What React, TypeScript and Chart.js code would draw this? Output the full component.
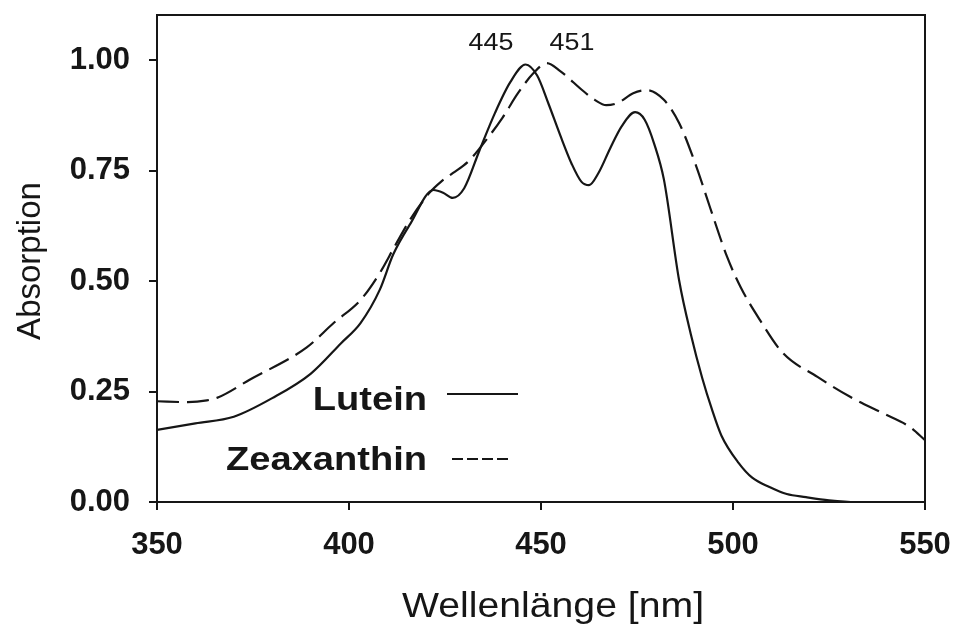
import { useEffect, useRef } from 'react';
import { Chart, registerables } from 'chart.js';

Chart.register(...registerables);

// ---- data ----
const luteinWavelengths = [350, 360, 370, 380, 390, 398, 403, 408, 411.5, 416, 422, 424.5, 427, 430, 434, 438, 442, 446, 449, 452, 455, 458, 460.5, 462.5, 465, 468, 471, 474.5, 477, 479.5, 482, 486, 489, 492, 494.5, 497, 501.5, 505, 509.5, 514, 519, 525, 532, 550];
const luteinAbsorption = [0.163, 0.178, 0.193, 0.235, 0.29, 0.36, 0.405, 0.48, 0.56, 0.63, 0.706, 0.70, 0.688, 0.71, 0.796, 0.88, 0.95, 0.99, 0.965, 0.90, 0.83, 0.765, 0.725, 0.717, 0.745, 0.80, 0.85, 0.882, 0.865, 0.81, 0.73, 0.50, 0.38, 0.28, 0.21, 0.15, 0.088, 0.055, 0.034, 0.018, 0.011, 0.004, 0.0, 0.0];

const zeaxanthinWavelengths = [350, 358, 363, 366, 374, 389, 396, 403, 408, 412, 416, 421, 424, 427, 431, 434, 440, 444, 448, 451.5, 455, 461, 464, 467, 470, 474, 477.5, 482, 486, 490.5, 494, 498.5, 502, 507, 513, 522, 530.5, 539, 546, 550];
const zeaxanthinAbsorption = [0.228, 0.226, 0.23, 0.237, 0.276, 0.35, 0.405, 0.457, 0.518, 0.58, 0.64, 0.70, 0.725, 0.744, 0.77, 0.80, 0.87, 0.925, 0.97, 0.993, 0.975, 0.93, 0.91, 0.898, 0.903, 0.925, 0.932, 0.91, 0.857, 0.758, 0.667, 0.554, 0.486, 0.412, 0.337, 0.283, 0.238, 0.201, 0.17, 0.14];

const seriesNames = ['Lutein', 'Zeaxanthin'];
const xTickValues = [350, 400, 450, 500, 550];
const xTickLabels = ['350', '400', '450', '500', '550'];
const yTickValues = [0, 0.25, 0.5, 0.75, 1.0];
const yTickLabels = ['0.00', '0.25', '0.50', '0.75', '1.00'];
const peakLabels = ['445', '451'];
const xTitle = 'Wellenlänge [nm]';
const yTitle = 'Absorption';

const INK = '#161616';
const FONT = '"Liberation Sans", Arial, sans-serif';

const overlayPlugin = {
  id: 'overlay',
  afterDraw(chart: any) {
    const ctx = chart.ctx as CanvasRenderingContext2D;
    const { left, right, top, bottom } = chart.chartArea;
    ctx.save();
    // frame
    ctx.strokeStyle = INK;
    ctx.lineWidth = 2;
    ctx.setLineDash([]);
    ctx.strokeRect(left, top, right - left, bottom - top);

    const stretched = (str: string, x: number, y: number, font: string, align: CanvasTextAlign, sx = 1.12) => {
      ctx.save();
      ctx.translate(x, y);
      ctx.scale(sx, 1);
      ctx.font = font;
      ctx.fillStyle = INK;
      ctx.textAlign = align;
      ctx.textBaseline = 'alphabetic';
      ctx.fillText(str, 0, 0);
      ctx.restore();
    };

    // peak labels
    stretched(peakLabels[0], left + 334, top + 35, `24px ${FONT}`, 'center');
    stretched(peakLabels[1], left + 415, top + 35, `24px ${FONT}`, 'center');

    // legend
    stretched(seriesNames[0], left + 270, 410, `bold 34px ${FONT}`, 'right');
    stretched(seriesNames[1], left + 270, 470, `bold 34px ${FONT}`, 'right');
    ctx.strokeStyle = INK;
    ctx.lineWidth = 2;
    ctx.beginPath();
    ctx.moveTo(left + 290, 394);
    ctx.lineTo(left + 361, 394);
    ctx.stroke();
    ctx.setLineDash([11, 4]);
    ctx.beginPath();
    ctx.moveTo(left + 295, 459);
    ctx.lineTo(left + 353, 459);
    ctx.stroke();
    ctx.setLineDash([]);

    // axis titles
    stretched(xTitle, 553, 617, `35px ${FONT}`, 'center');
    ctx.save();
    ctx.translate(40, 261);
    ctx.rotate(-Math.PI / 2);
    ctx.font = `33px ${FONT}`;
    ctx.fillStyle = INK;
    ctx.textAlign = 'center';
    ctx.textBaseline = 'alphabetic';
    ctx.fillText(yTitle, 0, 0);
    ctx.restore();

    ctx.restore();
  },
};

export default function App() {
  const canvasRef = useRef<HTMLCanvasElement | null>(null);

  useEffect(() => {
    const canvas = canvasRef.current;
    if (!canvas) return;
    const lutein = luteinWavelengths.map((x, i) => ({ x, y: luteinAbsorption[i] }));
    const zea = zeaxanthinWavelengths.map((x, i) => ({ x, y: zeaxanthinAbsorption[i] }));

    const chart = new Chart(canvas, {
      type: 'line',
      data: {
        datasets: [
          {
            label: seriesNames[0],
            data: lutein,
            borderColor: INK,
            borderWidth: 2.2,
            pointRadius: 0,
            fill: false,
            cubicInterpolationMode: 'monotone',
          },
          {
            label: seriesNames[1],
            data: zea,
            borderColor: INK,
            borderWidth: 2.2,
            borderDash: [22, 8],
            pointRadius: 0,
            fill: false,
            cubicInterpolationMode: 'monotone',
          },
        ],
      },
      options: {
        responsive: false,
        animation: false,
        devicePixelRatio: 1,
        layout: { padding: { top: 15, right: 28, left: 0, bottom: 0 } },
        plugins: {
          legend: { display: false },
          tooltip: { enabled: false },
          title: { display: false },
        },
        scales: {
          x: {
            type: 'linear',
            min: 350,
            max: 550,
            afterFit: (s: any) => {
              s.height = 123;
              s.paddingLeft = 0;
              s.paddingRight = 0;
            },
            afterBuildTicks: (s: any) => { s.ticks = xTickValues.map((v) => ({ value: v })); },
            ticks: {
              autoSkip: false,
              maxRotation: 0,
              padding: 17,
              color: INK,
              font: { family: FONT, size: 31, weight: 'bold' },
              callback: (v: any) => xTickLabels[xTickValues.indexOf(Number(v))] ?? '',
            },
            grid: { drawOnChartArea: false, drawTicks: true, tickLength: 8, color: INK, lineWidth: 2 },
            border: { display: true, color: INK, width: 2 },
          },
          y: {
            type: 'linear',
            min: 0,
            max: 1.102,
            afterFit: (s: any) => {
              s.width = 157;
              s.paddingTop = 0;
              s.paddingBottom = 0;
            },
            afterBuildTicks: (s: any) => { s.ticks = yTickValues.map((v) => ({ value: v })); },
            ticks: {
              autoSkip: false,
              padding: 19,
              color: INK,
              font: { family: FONT, size: 31, weight: 'bold' },
              callback: (v: any) => yTickLabels[yTickValues.indexOf(Number(v))] ?? '',
            },
            grid: { drawOnChartArea: false, drawTicks: true, tickLength: 8, color: INK, lineWidth: 2 },
            border: { display: true, color: INK, width: 2 },
          },
        },
      },
      plugins: [overlayPlugin],
    });
    return () => chart.destroy();
  }, []);

  return (
    <div style={{ position: 'fixed', left: 0, top: 0, width: 953, height: 625, background: '#fff' }}>
      <canvas ref={canvasRef} width={953} height={625} style={{ display: 'block', width: 953, height: 625 }} />
    </div>
  );
}
